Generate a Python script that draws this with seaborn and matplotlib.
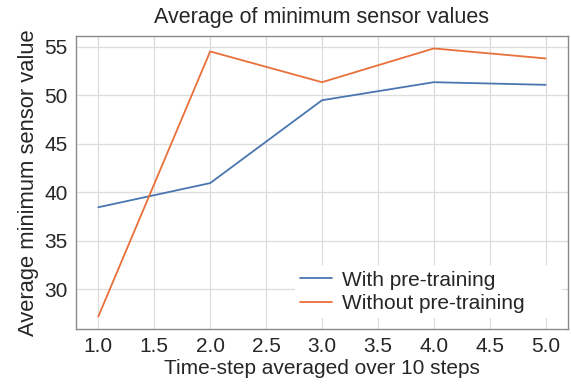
import matplotlib
matplotlib.use("Agg")
import matplotlib.pyplot as plt
import seaborn as sns
import pandas as pd

# Averaged minimum sensor readings per time step
time_steps = [1.0, 2.0, 3.0, 4.0, 5.0]
with_pretraining = [38.45, 40.94, 49.48, 51.34, 51.07]
without_pretraining = [27.2, 54.51, 51.34, 54.82, 53.79]
series_names = ["With pre-training", "Without pre-training"]
x_ticks = [1.0, 1.5, 2.0, 2.5, 3.0, 3.5, 4.0, 4.5, 5.0]
y_ticks = [30, 35, 40, 45, 50, 55]

df = pd.DataFrame({
    "step": time_steps * 2,
    "value": with_pretraining + without_pretraining,
    "series": [series_names[0]] * len(time_steps) + [series_names[1]] * len(time_steps),
})

sns.set_theme(style="whitegrid")
plt.rcParams["font.family"] = ["Liberation Sans", "DejaVu Sans"]

fig = plt.figure(figsize=(5.71, 3.84), dpi=100)
ax = fig.add_axes([0.1331, 0.1432, 0.8616, 0.7630])

sns.lineplot(data=df, x="step", y="value", hue="series",
             palette=["#4a76b0", "#e8703a"], linewidth=1.3, ax=ax)

ax.set_xlim(0.8, 5.2)
ax.set_ylim(25.9, 56.1)
ax.set_xticks(x_ticks)
ax.set_xticklabels([f"{t:.1f}" for t in x_ticks])
ax.set_yticks(y_ticks)
ax.tick_params(axis="both", labelsize=15, length=0, pad=6, colors="#262626")
ax.grid(True, color="#dddddd", linewidth=0.9)
for s in ax.spines.values():
    s.set_color("#8a8a8a")
    s.set_linewidth(1.0)

ax.set_title("Average of minimum sensor values", fontsize=15.5, color="#262626", pad=9.5)
ax.set_xlabel("Time-step averaged over 10 steps", fontsize=15, color="#262626", labelpad=2)
ax.set_ylabel("Average minimum sensor value", fontsize=15.8, color="#262626", labelpad=4)

# Wide white legend box in the lower right, entries left-aligned
leg = ax.legend(loc="lower left", bbox_to_anchor=(0.445, 0.0375, 0.543, 0.2),
                mode="expand", borderaxespad=0, frameon=True, fontsize=15,
                handlelength=1.54, handletextpad=0.45, labelspacing=0.2,
                borderpad=0.25)
leg.get_frame().set_edgecolor("none")
leg.get_frame().set_facecolor("white")
leg.get_frame().set_alpha(1.0)
for t in leg.get_texts():
    t.set_color("#262626")

fig.savefig("out.png", dpi=100)
